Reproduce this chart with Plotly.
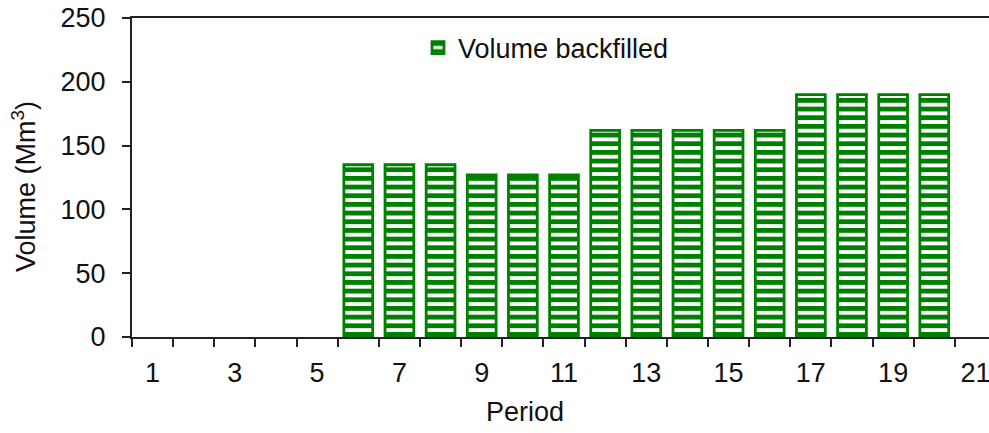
import plotly.graph_objects as go

periods = list(range(1, 22))
volume_backfilled = [0, 0, 0, 0, 0, 135, 135, 135, 127, 127, 127,
                     162, 162, 162, 162, 162, 190, 190, 190, 190, 0]
x_tick_labels = [str(p) for p in range(1, 22, 2)]
y_tick_values = [0, 50, 100, 150, 200, 250]

GREEN = "#008000"
FONT = "Liberation Sans, Arial, sans-serif"
FS = 27

W, H = 989, 433
L, R, T, B = 132, 0, 18, 433 - 337
pw = W - L - R
ph = H - T - B


def px(xpage):
    return (xpage - L) / pw


def py(ypage):
    return 1 - (ypage - T) / ph


fig = go.Figure()
fig.add_trace(go.Bar(
    x=periods,
    y=[v if v != 0 else None for v in volume_backfilled],
    name="Volume backfilled",
    width=0.7,
    marker=dict(
        color="white",
        line=dict(color=GREEN, width=2.8),
        pattern=dict(shape="-", fgcolor=GREEN, bgcolor="white",
                     fgopacity=1, size=8.67, solidity=0.55,
                     fillmode="replace"),
    ),
    showlegend=True,
))

fig.update_layout(
    width=W, height=H,
    margin=dict(l=L, r=R, t=T, b=B, pad=0, autoexpand=False),
    paper_bgcolor="white", plot_bgcolor="white",
    font=dict(family=FONT, size=FS, color="#111111"),
    legend=dict(
        x=px(418), y=py(48),
        xanchor="left", yanchor="middle",
        bgcolor="rgba(0,0,0,0)",
        font=dict(size=FS, family=FONT, color="#111111"),
        itemwidth=30,
    ),
    xaxis=dict(
        range=[0.5, 21.33],
        automargin=False,
        tickmode="array",
        tickvals=list(range(1, 22, 2)),
        ticktext=x_tick_labels,
        ticks="",
        ticklabeloverflow="allow",
        showline=True, linecolor="#222222", linewidth=2,
        mirror=True,
        showgrid=False, zeroline=False,
        ticklabelstandoff=11,
        minor=dict(tickvals=[p - 0.5 for p in periods],
                   ticks="outside", ticklen=8, tickwidth=2,
                   tickcolor="#222222", showgrid=False),
    ),
    yaxis=dict(
        range=[0, 250],
        automargin=False,
        tickmode="array",
        tickvals=y_tick_values,
        ticks="outside", ticklen=8, tickwidth=2, tickcolor="#222222",
        ticklabeloverflow="allow",
        showline=True, linecolor="#222222", linewidth=2,
        showgrid=False, zeroline=False,
        ticklabelstandoff=11,
    ),
    annotations=[
        dict(text="Volume (Mm<sup>3</sup>)", xref="paper", yref="paper",
             x=px(24), y=py(187),
             xanchor="center", yanchor="middle", textangle=-90,
             showarrow=False, font=dict(size=FS, family=FONT, color="#111111")),
        dict(text="Period", xref="paper", yref="paper",
             x=px(525), y=py(412),
             xanchor="center", yanchor="middle",
             showarrow=False, font=dict(size=FS, family=FONT, color="#111111")),
    ],
)

fig.write_html(
    "out.html",
    config={"displayModeBar": False},
    post_script="document.body.style.margin='0';document.body.style.overflow='hidden';",
)
